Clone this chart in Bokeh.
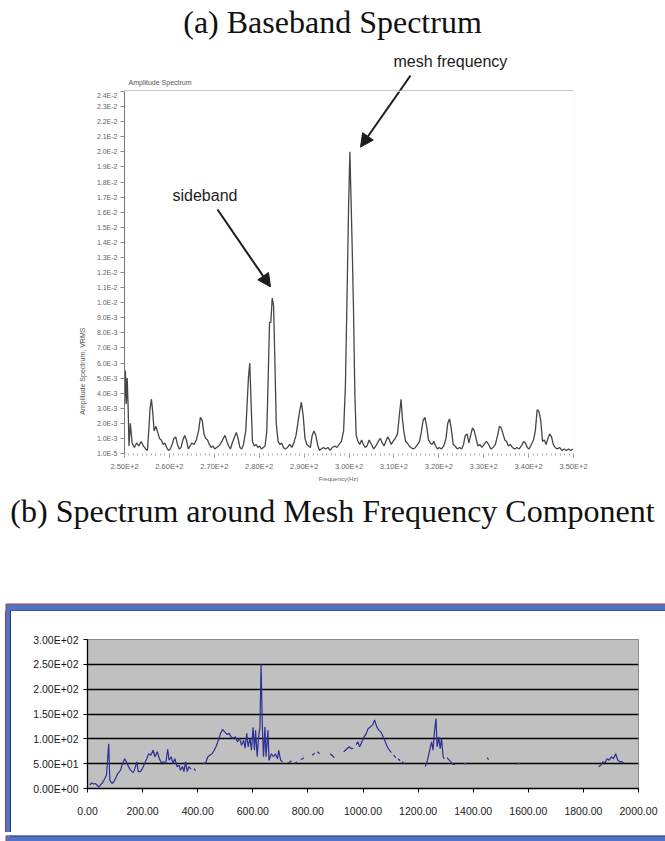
from bokeh.plotting import figure
from bokeh.layouts import column, row
from bokeh.models import Range1d, FixedTicker, Label, Arrow, NormalHead, Span, Div
from bokeh.embed import file_html
from bokeh.resources import INLINE
import math

NaN = float("nan")

# ---------------- (a) Baseband spectrum : amplitude in units of 1e-3 V RMS ----------------
freq_a = [250.0, 250.2, 250.4, 250.6, 250.8, 251.0, 251.3, 251.7, 252.2, 252.7, 253.2, 253.7, 254.2, 254.7,
          255.1, 255.4, 255.7, 256.0, 256.3, 256.6, 257.0, 257.4, 257.8, 258.2, 258.6, 259.0, 259.4, 259.8,
          260.2, 260.6, 261.0, 261.4, 261.8, 262.2, 262.6, 263.0, 263.4, 263.8, 264.2, 264.6, 265.0, 265.5,
          266.0, 266.5, 266.9, 267.3, 267.7, 268.1, 268.5, 268.9, 269.3, 269.7, 270.1, 270.5, 271.0, 271.5,
          272.0, 272.4, 272.8, 273.2, 273.6, 274.0, 274.5, 274.9, 275.3, 275.7, 276.1, 276.5, 277.0, 277.3,
          277.6, 277.9, 278.2, 278.5, 278.9, 279.3, 279.7, 280.1, 280.5, 280.9, 281.3, 281.7, 282.0, 282.3,
          282.6, 282.9, 283.2, 283.5, 283.8, 284.2, 284.6, 285.0, 285.4, 285.8, 286.3, 286.8, 287.3, 287.8,
          288.2, 288.6, 289.0, 289.4, 289.8, 290.2, 290.6, 291.0, 291.4, 291.8, 292.2, 292.6, 293.0, 293.4,
          293.8, 294.3, 294.8, 295.3, 295.8, 296.3, 296.8, 297.3, 297.8, 298.3, 298.8, 299.2, 299.6, 299.9,
          300.2, 300.4, 300.7, 301.0, 301.3, 301.6, 302.0, 302.4, 302.8, 303.2, 303.6, 304.0, 304.5, 305.0,
          305.5, 306.0, 306.5, 307.0, 307.4, 307.8, 308.2, 308.6, 309.0, 309.4, 309.8, 310.3, 310.8, 311.2,
          311.6, 311.9, 312.2, 312.6, 313.0, 313.4, 313.8, 314.3, 314.8, 315.3, 315.7, 316.1, 316.5, 316.9,
          317.3, 317.7, 318.1, 318.5, 318.9, 319.3, 319.7, 320.1, 320.6, 321.1, 321.6, 322.0, 322.4, 322.8,
          323.2, 323.6, 324.1, 324.6, 325.1, 325.5, 325.9, 326.3, 326.7, 327.1, 327.5, 327.9, 328.3, 328.7,
          329.1, 329.6, 330.1, 330.6, 331.1, 331.6, 332.1, 332.6, 333.1, 333.5, 333.9, 334.3, 334.7, 335.1,
          335.5, 335.9, 336.4, 336.9, 337.4, 337.9, 338.4, 338.9, 339.3, 339.7, 340.1, 340.6, 341.1, 341.5,
          341.9, 342.3, 342.7, 343.1, 343.5, 343.9, 344.3, 344.7, 345.1, 345.5, 345.9, 346.4, 346.9, 347.4,
          347.9, 348.4, 348.9, 349.4, 349.9]
amp_a = [3.2, 5.5, 3.3, 5.0, 3.2, 0.5, 2.0, 0.7, 0.4, 0.7, 0.5, 0.8, 0.5, 0.3,
         0.2, 1.5, 3.0, 3.6, 2.7, 1.5, 1.8, 1.4, 1.0, 0.9, 0.6, 0.7, 0.4, 0.2,
         0.3, 0.6, 1.0, 1.1, 0.6, 0.3, 0.4, 0.9, 1.2, 0.9, 0.3, 0.5, 0.7, 0.6,
         0.9, 1.5, 2.4, 2.2, 1.3, 1.0, 0.9, 0.6, 0.4, 0.5, 0.3, 0.4, 0.5, 0.7,
         1.0, 1.2, 0.8, 0.5, 0.3, 0.7, 1.1, 1.4, 1.0, 0.4, 0.3, 0.6, 1.5, 3.2,
         5.0, 6.0, 3.3, 0.8, 0.5, 0.6, 0.4, 0.5, 0.3, 0.4, 0.5, 1.5, 5.0, 8.7,
         8.7, 10.3, 9.8, 6.0, 2.0, 0.8, 0.6, 0.7, 0.4, 0.3, 0.4, 0.6, 0.4, 0.8,
         1.2, 2.0, 2.8, 3.4, 2.5, 1.0, 0.6, 0.5, 0.4, 1.2, 1.5, 1.2, 0.6, 0.2,
         0.3, 0.4, 0.3, 0.4, 0.2, 0.4, 0.5, 0.4, 0.6, 0.8, 1.5, 4.5, 11.0, 16.3,
         20.0, 17.5, 13.8, 9.6, 4.0, 1.2, 0.8, 0.6, 0.9, 0.6, 0.4, 0.5, 0.9, 0.6,
         0.3, 0.5, 0.8, 1.0, 0.7, 0.5, 0.8, 1.1, 0.9, 0.6, 0.8, 1.0, 1.3, 2.5,
         3.6, 2.3, 1.5, 0.8, 0.7, 0.5, 0.4, 0.3, 0.4, 0.6, 0.8, 1.4, 2.2, 2.4,
         1.8, 0.9, 0.7, 0.6, 0.8, 0.5, 0.3, 0.4, 0.3, 0.5, 1.0, 2.0, 2.3, 1.6,
         0.6, 0.5, 0.3, 0.4, 0.3, 0.6, 1.2, 1.3, 0.7, 1.2, 1.7, 1.5, 1.0, 0.5,
         0.6, 0.4, 0.6, 0.8, 0.6, 0.3, 0.4, 0.6, 1.2, 1.8, 1.7, 1.3, 0.9, 0.8,
         0.5, 0.6, 0.4, 0.3, 0.4, 0.3, 0.5, 0.8, 0.7, 0.4, 0.3, 0.6, 0.9, 1.5,
         2.9, 2.8, 2.2, 0.8, 0.9, 0.6, 1.0, 1.3, 1.1, 0.6, 0.4, 0.3, 0.4, 0.2,
         0.3, 0.2, 0.3, 0.2, 0.3]

x_ticks_a = [250, 260, 270, 280, 290, 300, 310, 320, 330, 340, 350]
x_tick_labels_a = ["2.50E+2", "2.60E+2", "2.70E+2", "2.80E+2", "2.90E+2", "3.00E+2",
                   "3.10E+2", "3.20E+2", "3.30E+2", "3.40E+2", "3.50E+2"]
y_ticks_a = [0, 1, 2, 3, 4, 5, 6, 7, 8, 9, 10, 11, 12, 13, 14, 15, 16, 17, 18, 19, 20, 21, 22, 23, 24]
y_tick_labels_a = ["1.0E-5", "1.0E-3", "2.0E-3", "3.0E-3", "4.0E-3", "5.0E-3", "6.0E-3", "7.0E-3",
                   "8.0E-3", "9.0E-3", "1.0E-2", "1.1E-2", "1.2E-2", "1.3E-2", "1.4E-2", "1.5E-2",
                   "1.6E-2", "1.7E-2", "1.8E-2", "1.9E-2", "2.0E-2", "2.1E-2", "2.2E-2", "2.3E-2", "2.4E-2"]

# ---------------- (b) Spectrum around mesh frequency component (NaN = gap in the trace) ----------------
freq_b = [8, 15, 22, 28, 36, 42, 48, 54, 61, 69, 77, 81, 89, 95, 104, 110, 120, 127, 135, 141, 149, 156,
          166, 172, 179, 184, 192, 199, 207, 215, 222, 230, 238, 245, 253, 261, 268, 276, 284, 291, 296,
          304, 310, 317, 325, 333, 337, 345, 350, 356, 362, 368, 376, 380, 386, 393, 400,
          421, 429, 437, 444, 452, 460, 467, 475, 483, 490, 498, 506, 514, 521, 529, 537, 544, 552, 559,
          567, 572, 578, 583, 590, 595, 601, 606, 610, 616, 621, 626, 630, 635, 639, 644, 648, 655, 659,
          667, 675, 682, 690, 694, 701, 708, 715,
          730, 740, 745, 752, 760, 765, 775, 785, 800, 815, 825, 830, 835, 842, 850, 881, 889, 896, 905,
          930, 940, 950, 958, 965, 970, 975, 981, 988, 996, 1004, 1012, 1019, 1027, 1035, 1042, 1050, 1058,
          1065, 1073, 1081, 1088, 1096, 1103, 1107, 1111, 1119, 1123, 1127, 1135, 1139, 1142, 1150, 1160,
          1226, 1234, 1242, 1249, 1254, 1260, 1265, 1269, 1275, 1280, 1285, 1291, 1295, 1300, 1305, 1311,
          1318, 1326, 1334, 1350, 1365, 1375, 1400, 1450, 1456, 1500, 1560, 1568, 1700,
          1855, 1863, 1871, 1878, 1886, 1894, 1901, 1909, 1917, 1925, 1932, 1940, 1948]
amp_b = [7, 11, 9, 10, 6, 3, 8, 11, 18, 27, 90, 17, 10, 13, 23, 30, 37, 50, 60, 54, 44, 37,
         32, 40, 54, 34, 34, 40, 50, 60, 70, 67, 77, 64, 74, 60, 52, 54, 50, 79, 57,
         64, 50, 60, 44, 47, 37, 44, 34, 54, 34, 44, 39, NaN, 40, 36, NaN,
         50, 52, 64, 67, 70, 77, 85, 97, 111, 119, 114, 109, 111, 104, 101, 104, 94, 101, 87,
         97, 81, 111, 84, 101, 77, 123, 77, 117, 64, 104, 124, 250, 117, 64, 124, 64, 117, 57,
         70, 64, 70, 60, 77, 57, 54, NaN,
         52, 56, NaN, 50, 54, NaN, 58, 62, NaN, 67, 71, NaN, 74, 70, NaN, 70, 66, 62, NaN,
         74, 79, 84, 80, 81, NaN, 88, 94, 84, 94, 104, 111, 121, 124, 128, 138, 124, 117,
         114, 104, 94, 84, 77, 72, NaN, 67, 62, NaN, 60, 56, NaN, 54, 50, NaN,
         44, 57, 77, 94, 77, 117, 141, 84, 104, 80, 101, 64, 60, NaN, 62, 58,
         54, 49, 48, NaN, 50, 50, NaN, 62, 58, NaN, 51, 50, NaN,
         44, 47, 54, 52, 60, 57, 64, 60, 70, 57, 54, 54, 50]

x_ticks_b = [0, 200, 400, 600, 800, 1000, 1200, 1400, 1600, 1800, 2000]
x_tick_labels_b = ["0.00", "200.00", "400.00", "600.00", "800.00", "1000.00", "1200.00",
                   "1400.00", "1600.00", "1800.00", "2000.00"]
y_ticks_b = [0, 50, 100, 150, 200, 250, 300]
y_tick_labels_b = ["0.00E+00", "5.00E+01", "1.00E+02", "1.50E+02", "2.00E+02", "2.50E+02", "3.00E+02"]

SERIF = "Liberation Serif"
SANS = "Liberation Sans"
INK = "#1c1c1c"
RED, BLUE, NAVY = "#b33a3a", "#4f74c4", "#26346a"


def text_fig(x0, x1, y0, y1, border_top=0, border_bottom=0, fy0=None, fy1=None):
    """A blank panel; coordinates are page pixels (y downward)."""
    fy0 = y0 if fy0 is None else fy0
    fy1 = y1 if fy1 is None else fy1
    f = figure(width=x1 - x0, height=y1 - y0, x_range=Range1d(x0, x1), y_range=Range1d(fy1, fy0),
               output_backend="svg", toolbar_location=None, x_axis_type=None, y_axis_type=None,
               min_border_left=0, min_border_right=0, min_border_top=border_top,
               min_border_bottom=border_bottom)
    f.outline_line_color = None
    f.background_fill_color = "white"
    f.border_fill_color = "white"
    f.xgrid.visible = False
    f.ygrid.visible = False
    return f


# ======================= panel (a) =======================
a_top = text_fig(0, 665, 0, 91)
a_top.add_layout(Label(x=332, y=21, text="(a) Baseband Spectrum", text_align="center",
                       text_baseline="alphabetic", text_font=SERIF, text_font_size="32px", text_color="#111111"))
a_top.add_layout(Label(x=128, y=82, text="Amplitude Spectrum", text_align="left", text_baseline="middle",
                       text_font=SANS, text_font_size="7px", text_color="#555555"))
a_top.add_layout(Label(x=393, y=61, text="mesh frequency", text_align="left", text_baseline="middle",
                       text_font=SANS, text_font_size="16px", text_color=INK))
MESH_X0, MESH_Y0, MESH_X1, MESH_Y1 = 410, 75, 360, 147
mesh_cross = MESH_X0 + (MESH_X1 - MESH_X0) * (91 - MESH_Y0) / (MESH_Y1 - MESH_Y0)
a_top.segment(x0=[MESH_X0], y0=[MESH_Y0], x1=[mesh_cross], y1=[91], line_color=INK, line_width=2)
a_top.segment(x0=[124], y0=[90.5], x1=[573], y1=[90.5], line_color="#8a8a8a", line_width=1)

# spectrum plot: page x 88..665, y 91..473 ; frame x 124..573, y 91..456
pa = figure(width=577, height=382, x_range=Range1d(250, 350), y_range=Range1d(0, 24),
            output_backend="svg", toolbar_location=None,
            min_border_left=36, min_border_right=92, min_border_top=0, min_border_bottom=17)
FA_L, FA_T, FA_W, FA_H = 124, 91, 449, 365


def ax(px):
    return 250 + (px - FA_L) * 100.0 / FA_W


def ay(py):
    return (FA_T + FA_H - py) * 24.0 / FA_H


# left strip with the rotated y caption (same vertical borders as the plot, so frames line up)
a_left = text_fig(0, 88, 91, 473, border_top=0, border_bottom=17, fy0=91, fy1=456)
a_left.add_layout(Label(x=82, y=373, text="Amplitude Spectrum, VRMS", angle=math.pi / 2,
                        text_align="center", text_baseline="middle", text_font=SANS,
                        text_font_size="7px", text_color="#555555"))

pa.background_fill_color = "white"
pa.border_fill_color = "white"
pa.outline_line_color = None
pa.xgrid.grid_line_color = None
pa.ygrid.grid_line_color = None

pa.line(freq_a, amp_a, line_color="#454545", line_width=1.3)

pa.yaxis.ticker = FixedTicker(ticks=y_ticks_a)
pa.yaxis.major_label_overrides = dict(zip(y_ticks_a, y_tick_labels_a))
pa.yaxis.major_label_text_font = SANS
pa.yaxis.major_label_text_font_size = "7px"
pa.yaxis.major_label_text_color = "#666666"
pa.yaxis.axis_line_color = "#777777"
pa.yaxis.major_tick_line_color = "#888888"
pa.yaxis.major_tick_out = 4
pa.yaxis.major_tick_in = 0
pa.yaxis.minor_tick_line_color = None
pa.yaxis.major_label_standoff = 3

pa.xaxis.ticker = FixedTicker(ticks=x_ticks_a, minor_ticks=[250 + i for i in range(101)])
pa.xaxis.major_label_overrides = dict(zip(x_ticks_a, x_tick_labels_a))
pa.xaxis.major_label_text_font = SANS
pa.xaxis.major_label_text_font_size = "7.5px"
pa.xaxis.major_label_text_color = "#666666"
pa.xaxis.axis_line_color = None
pa.xaxis.major_tick_line_color = "#999999"
pa.xaxis.major_tick_out = 4
pa.xaxis.major_tick_in = 0
pa.xaxis.minor_tick_line_color = "#aaaaaa"
pa.xaxis.minor_tick_out = 2
pa.xaxis.minor_tick_in = 0
pa.xaxis.major_label_standoff = 4

pa.add_layout(Span(location=350, dimension="height", line_color="#c8c8c8", line_width=1, line_dash="1 2"))

pa.add_layout(Label(x=ax(172), y=ay(196), text="sideband", text_align="left", text_baseline="middle",
                    text_font=SANS, text_font_size="16px", text_color=INK))
pa.add_layout(Arrow(end=NormalHead(size=13, fill_color=INK, line_color=INK),
                    x_start=ax(217), y_start=ay(210), x_end=ax(270), y_end=ay(288),
                    line_color=INK, line_width=2))
pa.add_layout(Arrow(end=NormalHead(size=13, fill_color=INK, line_color=INK),
                    x_start=ax(mesh_cross), y_start=ay(91), x_end=ax(MESH_X1), y_end=ay(MESH_Y1),
                    line_color=INK, line_width=2))

# x caption strip (full width) under the plot
a_freq = text_fig(0, 665, 473, 490)
a_freq.add_layout(Label(x=338, y=478, text="Frequency(Hz)", text_align="center", text_baseline="middle",
                        text_font=SANS, text_font_size="6px", text_color="#666666"))

panel_a = column(a_top, row(a_left, pa, spacing=0), a_freq, spacing=0)

# ======================= panel (b) =======================
# nested rectangles of the Excel-style chart border: (colour, left, top, bottom) in page pixels
BORDER = [(RED, 5, 603, 839), (BLUE, 6, 604, 838), (NAVY, 10, 610, 833), ("white", 11, 611, 832)]


def draw_border(f):
    for color, left, top, bottom in BORDER:
        f.quad(left=[left], right=[700], top=[top], bottom=[bottom], fill_color=color, line_color=None)


b_top = text_fig(0, 665, 490, 611)
draw_border(b_top)
b_top.add_layout(Label(x=332, y=510, text="(b) Spectrum around Mesh Frequency Component",
                       text_align="center", text_baseline="alphabetic", text_font=SERIF,
                       text_font_size="32px", text_color="#111111"))

b_left = Div(text="", width=11, height=221, margin=0,
             styles={"background": "linear-gradient(to right, white 0px, white 5px, " + RED + " 5px, " + RED +
                     " 6px, " + BLUE + " 6px, " + BLUE + " 10px, " + NAVY + " 10px, " + NAVY + " 11px)"})

b_bottom = text_fig(0, 665, 832, 841)
draw_border(b_bottom)

# chart: page x 11..665, y 611..832 ; gray frame x 87..638, y 639..788
pb = figure(width=654, height=221, x_range=Range1d(0, 2000), y_range=Range1d(0, 300),
            output_backend="svg", toolbar_location=None,
            min_border_left=76, min_border_right=27, min_border_top=28, min_border_bottom=44)
pb.background_fill_color = "#c0c0c0"
pb.border_fill_color = "white"
pb.outline_line_color = "#8c8c8c"
pb.outline_line_width = 1
pb.xgrid.grid_line_color = None
pb.ygrid.ticker = FixedTicker(ticks=y_ticks_b[1:-1])
pb.ygrid.grid_line_color = "black"
pb.ygrid.grid_line_width = 1.4

pb.line(freq_b, amp_b, line_color="#2e2e96", line_width=1.2)

for axis, ticks, labels in ((pb.xaxis, x_ticks_b, x_tick_labels_b), (pb.yaxis, y_ticks_b, y_tick_labels_b)):
    axis.ticker = FixedTicker(ticks=ticks)
    axis.major_label_overrides = dict(zip(ticks, labels))
    axis.major_label_text_font = SANS
    axis.major_label_text_font_size = "10.5px"
    axis.major_label_text_color = "#1a1a1a"
    axis.axis_line_color = "black"
    axis.axis_line_width = 1.3
    axis.major_tick_line_color = "black"
    axis.major_tick_out = 4
    axis.major_tick_in = 0
    axis.minor_tick_line_color = None
pb.xaxis.major_label_standoff = 14
pb.yaxis.major_label_standoff = 5

panel_b = column(b_top, row(b_left, pb, spacing=0), b_bottom, spacing=0)

layout = column(panel_a, panel_b, spacing=0)
open("out.html", "w").write(file_html(layout, INLINE))
